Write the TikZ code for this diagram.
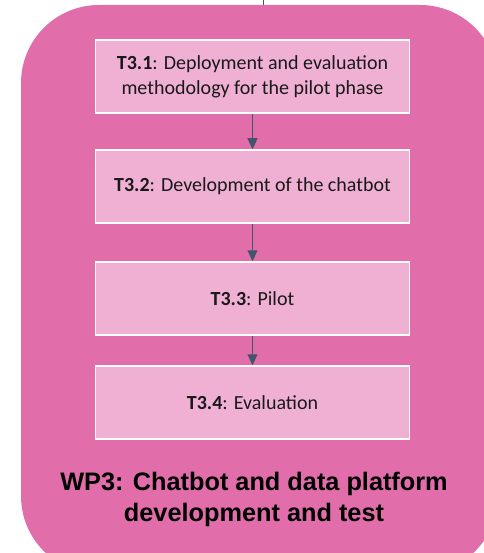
\documentclass[tikz,border=0pt]{standalone}
\usepackage{fontspec}
\setmainfont{Carlito}
\newfontfamily\titlefont{Liberation Sans}
\usetikzlibrary{arrows.meta}
\definecolor{outerpink}{RGB}{225,110,170}
\definecolor{boxpink}{RGB}{240,176,212}
\definecolor{arrowgray}{RGB}{68,84,106}
\definecolor{txt}{RGB}{25,25,25}
\tikzset{
  taskbox/.style={draw=white, line width=1.5pt, fill=boxpink, minimum width=314pt, minimum height=73pt,
    inner sep=0pt, align=center, text=txt, font=\fontsize{20}{25}\selectfont},
  flow/.style={draw=arrowgray, line width=1pt, -{Triangle[width=10pt,length=11pt]}},
}
\begin{document}
\begin{tikzpicture}[x=1pt,y=-1pt]
\useasboundingbox (0,0) rectangle (483,553);
\fill[outerpink, rounded corners=78pt] (21,5) rectangle (498,574);
\coordinate (tickA) at (263,0);
\coordinate (tickB) at (263,5);
\draw[arrowgray, line width=1pt] (tickA) -- (tickB);
\node[taskbox] (t1) at (252.5,76.5) {\textbf{T3.1}: Deployment and evaluation\\methodology for the pilot phase};
\node[taskbox] (t2) at (252.5,186.5) {\textbf{T3.2}: Development of the chatbot};
\node[taskbox] (t3) at (252.5,298.5) {\textbf{T3.3}: Pilot};
\node[taskbox] (t4) at (252.5,402.5) {\textbf{T3.4}: Evaluation};
\draw[flow] (t1) -- (t2);
\draw[flow] (t2) -- (t3);
\draw[flow] (t3) -- (t4);
\node[font=\titlefont\bfseries\fontsize{25.3}{31}\selectfont, align=center, text=black, inner sep=0pt] (wp) at (254,499)
  {WP3: Chatbot and data platform\\development and test};
\end{tikzpicture}
\end{document}
